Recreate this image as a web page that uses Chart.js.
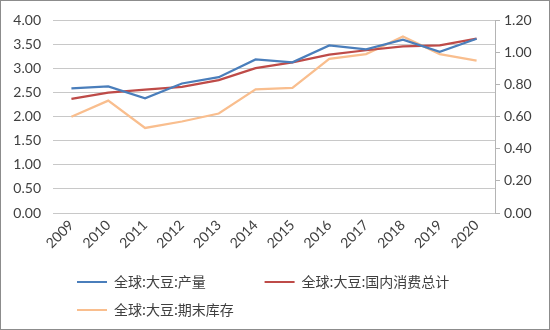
<!DOCTYPE html>
<html>
<head>
<meta charset="utf-8">
<script src="https://cdn.jsdelivr.net/npm/chart.js@4"></script>
<style>
  body { margin: 0; background: #fff; }
  #wrap { width: 550px; height: 330px; }
</style>
</head>
<body>
<div id="wrap"><canvas id="lineChart" width="550" height="330"></canvas></div>
<script>
const YEARS = ["2009", "2010", "2011", "2012", "2013", "2014", "2015", "2016", "2017", "2018", "2019", "2020"];
const PRODUCTION = [2.59, 2.63, 2.38, 2.69, 2.82, 3.19, 3.13, 3.48, 3.40, 3.60, 3.35, 3.62];
const CONSUMPTION = [2.37, 2.50, 2.56, 2.62, 2.76, 3.01, 3.13, 3.29, 3.38, 3.46, 3.48, 3.62];
const ENDING_STOCKS = [0.60, 0.70, 0.53, 0.57, 0.62, 0.77, 0.78, 0.96, 0.99, 1.10, 0.99, 0.95];
const LEFT_TICKS = [0, 0.5, 1, 1.5, 2, 2.5, 3, 3.5, 4];
const RIGHT_TICKS = [0, 0.2, 0.4, 0.6, 0.8, 1.0, 1.2];

const NAMES = ["全球:大豆:产量", "全球:大豆:国内消费总计", "全球:大豆:期末库存"];
const COLORS = ["#4a7ebb", "#be4b48", "#f9be8e"];

const TICK_FONT = { family: "Lato, 'Open Sans', sans-serif", size: 14 };
const LEGEND_FONT = { family: "'Noto Sans CJK SC', sans-serif", size: 14 };

// outer grey frame, like the Excel chart border
const frame = {
    id: 'frame',
    afterDraw(chart) {
        const ctx = chart.ctx;
        ctx.save();
        ctx.strokeStyle = "#8c8c8c";
        ctx.lineWidth = 1;
        ctx.strokeRect(0.5, 0.5, chart.width - 1, chart.height - 1);
        ctx.restore();
    }
};

// push legend rows to start where the Excel legend starts
const legendShift = {
    id: 'legendShift',
    afterLayout(chart) {
        chart.legend.left = 63;
    }
};

const CHART = document.getElementById("lineChart");

let lineChart = new Chart(CHART, {
    type: 'line',
    data: {
        labels: YEARS,
        datasets: [
            {
                label: NAMES[0],
                data: PRODUCTION,
                yAxisID: 'y',
                borderColor: COLORS[0],
                backgroundColor: COLORS[0],
                borderWidth: 2.25,
                pointRadius: 0,
                tension: 0,
                fill: false
            }, {
                label: NAMES[1],
                data: CONSUMPTION,
                yAxisID: 'y',
                borderColor: COLORS[1],
                backgroundColor: COLORS[1],
                borderWidth: 2.25,
                pointRadius: 0,
                tension: 0,
                fill: false
            }, {
                label: NAMES[2],
                data: ENDING_STOCKS,
                yAxisID: 'y1',
                borderColor: COLORS[2],
                backgroundColor: COLORS[2],
                borderWidth: 2.25,
                pointRadius: 0,
                tension: 0,
                fill: false
            }
        ]
    },
    options: {
        responsive: false,
        animation: false,
        layout: { padding: { top: 17, left: 0, right: 0, bottom: 3 } },
        plugins: {
            tooltip: { enabled: false },
            legend: {
                position: 'bottom',
                align: 'start',
                labels: {
                    font: LEGEND_FONT,
                    color: "#404040",
                    boxWidth: 30,
                    boxHeight: 2,
                    padding: 14,
                    generateLabels(chart) {
                        return chart.data.datasets.map((ds, i) => ({
                            // trailing spaces widen the first item like the Excel column gap
                            text: i === 0 ? ds.label + "\u2003\u2003\u2003\u2009" : ds.label,
                            fillStyle: ds.borderColor,
                            strokeStyle: ds.borderColor,
                            lineWidth: 0,
                            hidden: false,
                            datasetIndex: i,
                            fontColor: "#404040"
                        }));
                    }
                }
            }
        },
        scales: {
            x: {
                offset: true,
                grid: { display: false, drawTicks: false },
                border: { display: true, color: "#c8c8c8", width: 1 },
                ticks: {
                    font: TICK_FONT,
                    color: "#404040",
                    minRotation: 45,
                    maxRotation: 45,
                    padding: 4
                },
                afterFit(scale) { scale.height = 48; }
            },
            y: {
                position: 'left',
                min: 0,
                max: 4,
                afterBuildTicks(scale) { scale.ticks = LEFT_TICKS.map(v => ({ value: v })); },
                grid: { color: "#c8c8c8", drawTicks: false },
                border: { display: false },
                ticks: {
                    font: TICK_FONT,
                    color: "#404040",
                    padding: 12,
                    callback: v => v.toFixed(2)
                },
                afterFit(scale) { scale.width = 53; }
            },
            y1: {
                position: 'right',
                min: 0,
                max: 1.2,
                afterBuildTicks(scale) { scale.ticks = RIGHT_TICKS.map(v => ({ value: v })); },
                grid: { drawOnChartArea: false, color: "#b4b4b4", tickLength: 5 },
                border: { display: true, color: "#b4b4b4", width: 1 },
                ticks: {
                    font: TICK_FONT,
                    color: "#404040",
                    padding: 4,
                    callback: v => v.toFixed(2)
                },
                afterFit(scale) { scale.width = 55; }
            }
        }
    },
    plugins: [frame, legendShift]
});
</script>
</body>
</html>
